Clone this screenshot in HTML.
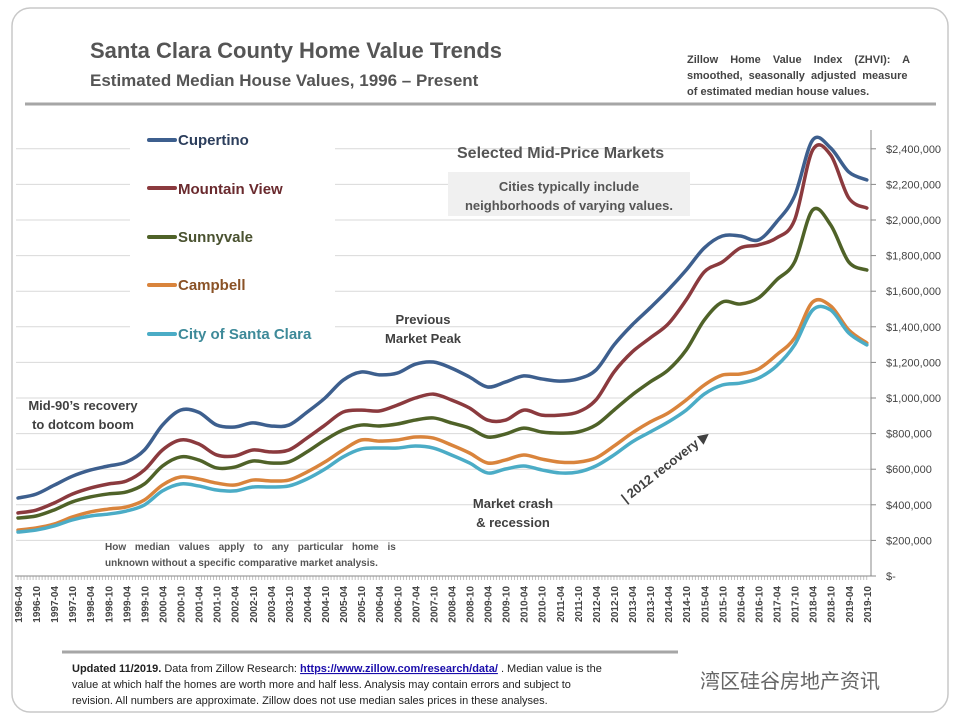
<!DOCTYPE html>
<html><head><meta charset="utf-8"><style>
body{margin:0;background:#fff;width:960px;height:720px;overflow:hidden;font-family:"Liberation Sans",sans-serif}
</style></head><body>
<svg id="c" width="960" height="720" xmlns="http://www.w3.org/2000/svg" style="font-family:'Liberation Sans',sans-serif">
<rect x="12" y="8" width="936" height="704" rx="18" fill="#fff" stroke="#c8c8c8" stroke-width="1.5"/>
<text x="90" y="58" font-size="22" font-weight="bold" fill="#555">Santa Clara County Home Value Trends</text>
<text x="90" y="86" font-size="17" font-weight="bold" fill="#555">Estimated Median House Values, 1996 – Present</text>
<g font-size="11" fill="#444" font-weight="bold">
<text x="687" y="63" word-spacing="9">Zillow Home Value Index (ZHVI): A</text>
<text x="687" y="79" word-spacing="3">smoothed, seasonally adjusted measure</text>
<text x="687" y="95">of estimated median house values.</text>
</g>
<line x1="25" y1="104" x2="936" y2="104" stroke="#a6a6a6" stroke-width="3"/>
<g id="grid"></g>
<g id="axes"></g>
<rect x="130" y="125" width="205" height="225" fill="#fff"/>
<g font-size="15" font-weight="bold">
<g><line x1="149" y1="140" x2="175" y2="140" stroke="#3d5f8e" stroke-width="4" stroke-linecap="round"/><text x="178" y="145" fill="#2c3e5c">Cupertino</text></g>
<g><line x1="149" y1="188" x2="175" y2="188" stroke="#8b3a3e" stroke-width="4" stroke-linecap="round"/><text x="178" y="194" fill="#6a2a2e">Mountain View</text></g>
<g><line x1="149" y1="237" x2="175" y2="237" stroke="#4f6228" stroke-width="4" stroke-linecap="round"/><text x="178" y="242" fill="#4a5230">Sunnyvale</text></g>
<g><line x1="149" y1="285" x2="175" y2="285" stroke="#d9843c" stroke-width="4" stroke-linecap="round"/><text x="178" y="290" fill="#8a5226">Campbell</text></g>
<g><line x1="149" y1="334" x2="175" y2="334" stroke="#4bacc6" stroke-width="4" stroke-linecap="round"/><text x="178" y="339" fill="#3e8a99">City of Santa Clara</text></g>
</g>
<text x="457" y="158" font-size="16" font-weight="bold" fill="#555">Selected Mid-Price Markets</text>
<rect x="448" y="172" width="242" height="44" fill="#f0f0f0"/>
<g font-size="13" font-weight="bold" fill="#555" text-anchor="middle"><text x="569" y="191">Cities typically include</text><text x="569" y="210">neighborhoods of varying values.</text></g>
<g id="lines"></g>
<g font-size="13" font-weight="bold" fill="#404040" text-anchor="middle">
<text x="83" y="410">Mid-90’s recovery</text><text x="83" y="429">to dotcom boom</text>
<text x="423" y="324">Previous</text><text x="423" y="343">Market Peak</text>
<text x="513" y="508">Market crash</text><text x="513" y="527">&amp; recession</text>
<text x="668" y="470" transform="rotate(-38 668 470)">| 2012 recovery ▶</text>
</g>
<g font-size="10" font-weight="bold" fill="#555">
<text x="105" y="550" word-spacing="6">How median values apply to any particular home is</text>
<text x="105" y="566">unknown without a specific comparative market analysis.</text>
</g>
<line x1="62" y1="652" x2="678" y2="652" stroke="#a6a6a6" stroke-width="3"/>
<g font-size="11" fill="#222">
<text x="72" y="672"><tspan font-weight="bold">Updated 11/2019.</tspan> Data from Zillow Research: <tspan fill="#1a0dab" text-decoration="underline" font-weight="bold">https://www.zillow.com/research/data/</tspan> . Median value is the</text>
<text x="72" y="688">value at which half the homes are worth more and half less. Analysis may contain errors and subject to</text>
<text x="72" y="704">revision. All numbers are approximate. Zillow does not use median sales prices in these analyses.</text>
</g>
<text x="700" y="688" font-size="20" fill="#666" font-family="'Liberation Sans','Noto Sans CJK SC',sans-serif">湾区硅谷房地产资讯</text>
</svg>
<script>
const dates=["1996-04","1996-10","1997-04","1997-10","1998-04","1998-10","1999-04","1999-10","2000-04","2000-10","2001-04","2001-10","2002-04","2002-10","2003-04","2003-10","2004-04","2004-10","2005-04","2005-10","2006-04","2006-10","2007-04","2007-10","2008-04","2008-10","2009-04","2009-10","2010-04","2010-10","2011-04","2011-10","2012-04","2012-10","2013-04","2013-10","2014-04","2014-10","2015-04","2015-10","2016-04","2016-10","2017-04","2017-10","2018-04","2018-10","2019-04","2019-10"];
const cupertino=[438,460,510,560,595,618,640,708,848,932,920,848,837,860,843,848,920,1000,1100,1146,1130,1140,1190,1202,1168,1118,1062,1090,1124,1107,1095,1107,1157,1298,1410,1506,1607,1719,1843,1910,1910,1888,1989,2135,2449,2404,2270,2225];
const mountainView=[354,370,410,460,494,517,534,596,708,764,742,680,674,708,697,708,775,848,921,932,927,960,1000,1022,989,944,876,876,932,904,904,921,989,1146,1258,1337,1416,1551,1708,1764,1843,1860,1899,2000,2393,2365,2124,2067];
const sunnyvale=[326,337,371,416,444,461,472,517,618,669,652,607,612,646,635,641,697,764,820,848,843,854,876,888,860,831,781,798,831,809,803,809,848,932,1017,1090,1157,1270,1438,1539,1528,1562,1663,1764,2056,1972,1764,1719];
const campbell=[258,270,292,331,360,376,388,427,511,556,545,522,511,539,534,539,584,641,708,764,758,764,781,775,736,691,635,652,680,657,640,640,663,730,803,865,916,989,1073,1129,1135,1163,1242,1337,1539,1517,1382,1309];
const santaClara=[247,258,281,315,337,348,365,399,478,517,506,483,478,500,500,506,545,601,669,713,719,719,730,719,680,635,579,601,618,596,579,584,618,680,753,809,865,932,1022,1073,1084,1112,1180,1298,1494,1494,1365,1298];
const yTicks=[0,200,400,600,800,1000,1200,1400,1600,1800,2000,2200,2400];
const yTickLabels=["$-","$200,000","$400,000","$600,000","$800,000","$1,000,000","$1,200,000","$1,400,000","$1,600,000","$1,800,000","$2,000,000","$2,200,000","$2,400,000"];
const NS='http://www.w3.org/2000/svg';
const x0=18,dx=18.06,yBase=576,pxPer=35.6/200;
const X=i=>x0+i*dx, Y=v=>yBase-v*pxPer;
function mk(t,a,p){const e=document.createElementNS(NS,t);for(const k in a)e.setAttribute(k,a[k]);p.appendChild(e);return e;}
const grid=document.getElementById('grid'),axes=document.getElementById('axes'),lines=document.getElementById('lines');
yTicks.forEach((v,i)=>{
 if(v>0){const g=mk('line',{x1:16,x2:871,y1:Y(v),y2:Y(v),stroke:'#d9d9d9','stroke-width':1},grid);
 
 }
 const tk=mk('line',{x1:871,x2:876,y1:Y(v),y2:Y(v),stroke:'#888'},axes);
 
 
 const t=mk('text',{x:886,y:Y(v)+4,'font-size':11,fill:'#444'},axes);t.textContent=yTickLabels[i];
 
 
});
const ya=mk('line',{x1:871,x2:871,y1:130,y2:576,stroke:'#888'},axes);


const xa=mk('line',{x1:15,x2:871,y1:576,y2:576,stroke:'#888'},axes);


for(let m=0;m<=(dates.length-1)*6;m++){const xm=x0+m*dx/6;const t=mk('line',{x1:xm,x2:xm,y1:576,y2:580,stroke:'#999','stroke-width':0.6},axes);
}
dates.forEach((d,i)=>{const t=mk('text',{x:0,y:0,'font-size':10,'font-weight':'bold',fill:'#444','text-anchor':'end',transform:`translate(${X(i)+4},586) rotate(-90)`},axes);t.textContent=d;
 
 });
function path(arr){const p=arr.map((v,i)=>[X(i),Y(v)]);let d=`M${p[0][0]},${p[0][1]}`;
 for(let i=0;i<p.length-1;i++){const a=p[Math.max(0,i-1)],b=p[i],c=p[i+1],e=p[Math.min(p.length-1,i+2)];
 d+=` C${b[0]+(c[0]-a[0])/6},${b[1]+(c[1]-a[1])/6} ${c[0]-(e[0]-b[0])/6},${c[1]-(e[1]-b[1])/6} ${c[0]},${c[1]}`;}return d;}
[[cupertino,'#3d5f8e','line-cupertino'],[mountainView,'#8b3a3e','line-mountain-view'],[sunnyvale,'#4f6228','line-sunnyvale'],[campbell,'#d9843c','line-campbell'],[santaClara,'#4bacc6','line-santa-clara']].forEach(([arr,col,name])=>{
 const p=mk('path',{d:path(arr),fill:'none',stroke:col,'stroke-width':3.5,'stroke-linejoin':'round','stroke-linecap':'round'},lines);
 
 
});
</script>
</body></html>
